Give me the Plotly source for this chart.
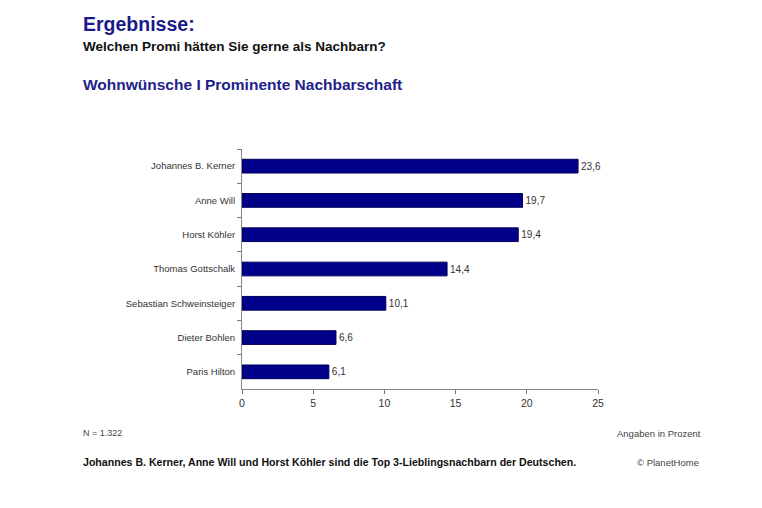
import plotly.graph_objects as go

names = ["Johannes B. Kerner", "Anne Will", "Horst Köhler", "Thomas Gottschalk",
         "Sebastian Schweinsteiger", "Dieter Bohlen", "Paris Hilton"]
values = [23.6, 19.7, 19.4, 14.4, 10.1, 6.6, 6.1]
x_ticks = [0, 5, 10, 15, 20, 25]
labels = [f"{v:.1f}".replace(".", ",") for v in values]

W, H = 762, 508
L, R, T, B = 242, 598, 149, 389

def px(x):
    return (x - L) / (R - L)

def py(y):
    return (B - y) / (B - T)

fig = go.Figure(go.Bar(
    x=values, y=names, orientation="h",
    marker=dict(color="#000088", line=dict(color="#00005a", width=1)),
    width=0.4,
    text=labels, textposition="outside", cliponaxis=False,
    textfont=dict(family="Liberation Sans, Arial", size=10, color="#333333"),
))

fig.update_layout(
    width=W, height=H,
    margin=dict(l=L, r=W - R, t=T, b=H - B),
    paper_bgcolor="white", plot_bgcolor="white",
    showlegend=False,
    font=dict(family="Liberation Sans, Arial", size=10, color="#333333"),
    xaxis=dict(range=[0, 25], tickvals=x_ticks, ticks="outside", ticklen=4,
               tickcolor="#777777", showline=True, linecolor="#888888",
               showgrid=False, zeroline=False, fixedrange=True,
               tickfont=dict(size=10.5, color="#333333")),
    yaxis=dict(categoryorder="array", categoryarray=names, range=[6.5, -0.5],
               tickson="boundaries", ticks="outside", ticklen=4, tickcolor="#777777",
               showline=True, linecolor="#888888", showgrid=False,
               tickfont=dict(size=9.5, color="#333333"), ticklabelstandoff=4),
)

anns = [
    dict(text="<b>Ergebnisse:</b>", x=px(81), y=py(24), size=19.5, color="#1a1a8a"),
    dict(text="<b>Welchen Promi hätten Sie gerne als Nachbarn?</b>", x=px(81), y=py(47), size=13.5, color="#111111"),
    dict(text="<b>Wohnwünsche I Prominente Nachbarschaft</b>", x=px(81), y=py(84), size=15.5, color="#22228a"),
    dict(text="N = 1.322", x=px(81), y=py(433), size=9, color="#444444"),
    dict(text="<b>Johannes B. Kerner, Anne Will und Horst Köhler sind die Top 3-Lieblingsnachbarn der Deutschen.</b>",
         x=px(81), y=py(462), size=10.6, color="#111111"),
]
for a in anns:
    fig.add_annotation(text=a["text"], x=a["x"], y=a["y"], xref="paper", yref="paper",
                       xanchor="left", yanchor="middle", showarrow=False,
                       font=dict(family="Liberation Sans, Arial", size=a["size"], color=a["color"]))
for text, xr, yy in [("Angaben in Prozent", 703, 433), ("© PlanetHome", 701, 462)]:
    fig.add_annotation(text=text, x=px(xr), y=py(yy), xref="paper", yref="paper",
                       xanchor="right", yanchor="middle", showarrow=False,
                       font=dict(family="Liberation Sans, Arial", size=9.5, color="#444444"))

fig.write_html("out.html")
